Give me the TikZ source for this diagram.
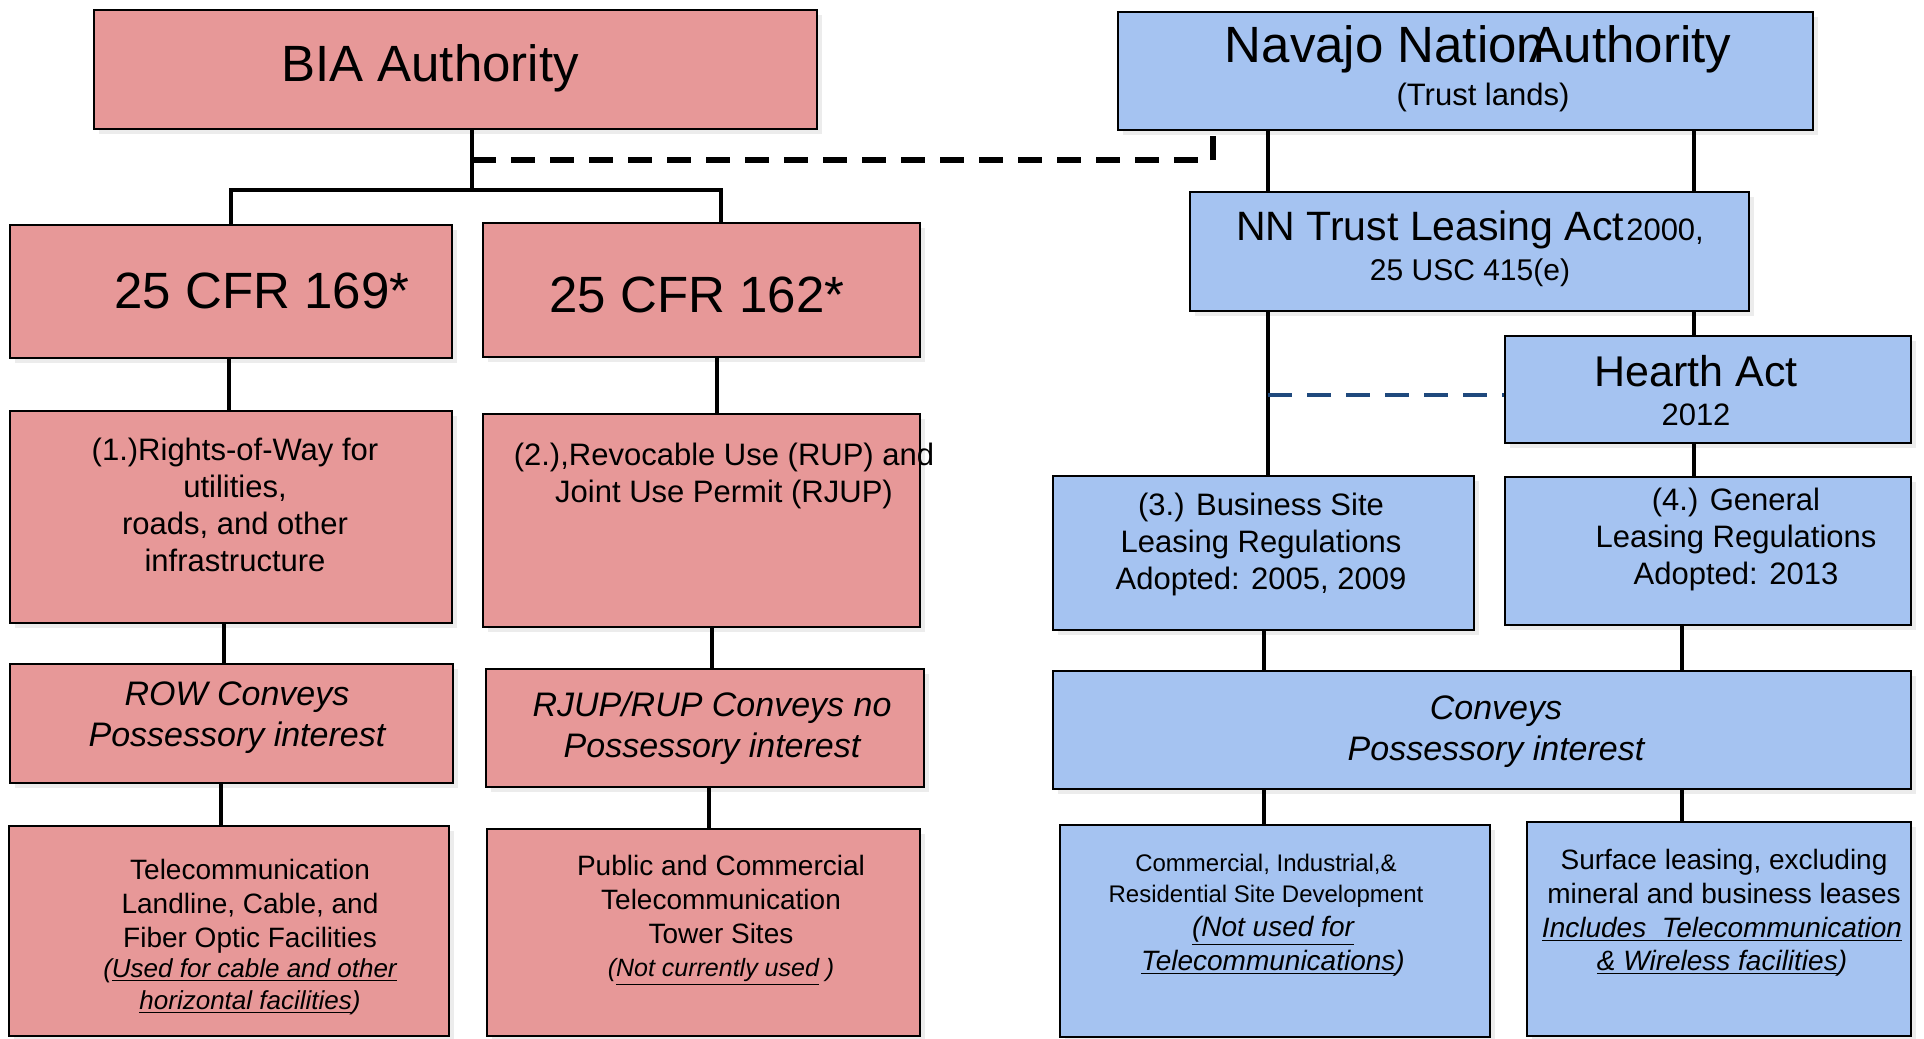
\documentclass[tikz,border=0pt]{standalone}
\usepackage{fontspec}
\setmainfont{Liberation Sans}
\usetikzlibrary{fit,shadows}
\definecolor{pinkf}{RGB}{231,152,152}
\definecolor{bluef}{RGB}{165,195,241}
\definecolor{dblue}{RGB}{31,73,125}
\newcommand{\fsz}[2]{\fontsize{#1}{#2}\selectfont}
\begin{document}
\begin{tikzpicture}[x=0.5pt,y=-0.5pt,
  box/.style={draw=black, line width=1.4pt, inner sep=0pt,
    drop shadow={opacity=0.15,shadow xshift=2.5pt,shadow yshift=-2.5pt}},
  pbox/.style={box, fill=pinkf},
  bbox/.style={box, fill=bluef},
  txt/.style={inner sep=0pt, align=center, text=black},
  conn/.style={line width=2pt},
  dline/.style={line width=2.6pt, dash pattern=on 12pt off 7.5pt},
  bdline/.style={dline, draw=dblue, line width=2.4pt}]
\useasboundingbox[fill=white] (0,0) rectangle (1924,1039);

% boxes
\node[pbox, fit={(94,10)(817,129)}] (bia) {};
\node[bbox, fit={(1118,12)(1813,130)}] (nav) {};
\node[pbox, fit={(10,225)(452,358)}] (c169) {};
\node[pbox, fit={(483,223)(920,357)}] (c162) {};
\node[pbox, fit={(10,411)(452,623)}] (row1) {};
\node[pbox, fit={(483,414)(920,627)}] (rup) {};
\node[pbox, fit={(10,664)(453,783)}] (rowc) {};
\node[pbox, fit={(486,669)(924,787)}] (rjc) {};
\node[pbox, fit={(9,826)(449,1036)}] (tel) {};
\node[pbox, fit={(487,829)(920,1036)}] (pub) {};
\node[bbox, fit={(1190,192)(1749,311)}] (nnt) {};
\node[bbox, fit={(1505,336)(1911,443)}] (hea) {};
\node[bbox, fit={(1053,476)(1474,630)}] (bus) {};
\node[bbox, fit={(1505,477)(1911,625)}] (gen) {};
\node[bbox, fit={(1053,671)(1911,789)}] (conv) {};
\node[bbox, fit={(1060,825)(1490,1037)}] (com) {};
\node[bbox, fit={(1527,822)(1911,1036)}] (surf) {};

% texts
\node[txt, font=\fsz{25.5}{30}] (biat) at (430,68) {BIA Authority};
\node[txt, font=\fsz{25.5}{30}] (navt) at (1478,49) {Navajo Nation\kern-0.3emAuthority};
\node[txt, font=\fsz{15.5}{18}] (navs) at (1483,97) {(Trust lands)};
\node[txt, font=\fsz{25.5}{30}] (c169t) at (262,291) {25 CFR 169*};
\node[txt, font=\fsz{25.5}{30}] (c162t) at (697,295) {25 CFR 162*};
\node[txt, font=\fsz{15.5}{18.5}] (row1t) at (235,505) {(1.)Rights-of-Way for\\utilities,\\roads, and other\\infrastructure};
\node[txt, font=\fsz{15.5}{18.5}] (rupt) at (724,476) {(2.),Revocable Use (RUP) and\\Joint Use Permit (RJUP)};
\node[txt, font=\fsz{17}{20.5}\itshape] (rowct) at (237,718) {ROW Conveys\\Possessory interest};
\node[txt, font=\fsz{17}{20.5}\itshape] (rjct) at (712,728) {RJUP/RUP Conveys no\\Possessory interest};
\node[txt, font=\fsz{14}{17}] (telt) at (250,906) {Telecommunication\\Landline, Cable, and\\Fiber Optic Facilities};
\node[txt, font=\fsz{13}{16}\itshape] (telu) at (250,987) {(\underline{Used for cable and other}\\\underline{horizontal facilities})};
\node[txt, font=\fsz{14}{17}] (pubt) at (721,899) {Public and Commercial\\Telecommunication\\Tower Sites};
\node[txt, font=\fsz{12.5}{16}\itshape] (pubu) at (721,972) {(\underline{Not currently used} )};
\node[txt, font=\fsz{20.5}{25}] (nntt) at (1470,230) {NN Trust Leasing Act\kern1pt{\fsz{15.5}{19}2000,}};
\node[txt, font=\fsz{15}{18}] (nnts) at (1470,273) {25 USC 415(e)};
\node[txt, font=\fsz{21.5}{25}] (heat) at (1696,371) {Hearth Act};
\node[txt, font=\fsz{15.5}{18}] (heas) at (1696,415) {2012};
\node[txt, font=\fsz{15.5}{18.5}] (bust) at (1261,544) {(3.) Business Site\\Leasing Regulations\\Adopted: 2005, 2009};
\node[txt, font=\fsz{15.5}{18.5}] (gent) at (1736,539) {(4.) General\\Leasing Regulations\\Adopted: 2013};
\node[txt, font=\fsz{17}{20.5}\itshape] (convt) at (1496,732) {Conveys\\Possessory interest};
\node[txt, font=\fsz{12}{15.5}] (comt) at (1266,881) {Commercial, Industrial,\&\\Residential Site Development};
\node[txt, font=\fsz{14}{17}\itshape] (comu) at (1273,946) {\underline{(Not used for}\\\underline{Telecommunications})};
\node[txt, font=\fsz{14}{17}] (surft) at (1724,876) {Surface leasing, excluding\\mineral and business leases};
\node[txt, font=\fsz{14}{16.5}\itshape] (surfu) at (1722,947) {\underline{Includes\ \ Telecommunication}\\\underline{\& Wireless facilities})};

% connector helper coordinates
\coordinate (bar) at (472,190);
\coordinate (dj) at (472,160);
\coordinate (xdash) at (1213,0);
\coordinate (x162) at (721,0);
\coordinate (xa) at (229,0);
\coordinate (xb) at (717,0);
\coordinate (xc) at (224,0);
\coordinate (xd) at (712,0);
\coordinate (xe) at (221,0);
\coordinate (xf) at (709,0);
\coordinate (xg) at (1268,0);
\coordinate (xh) at (1694,0);
\coordinate (xi) at (1264,0);
\coordinate (xj) at (1682,0);
\coordinate (bd) at (1268,395);

% connectors
\draw[conn] (bia.south -| bar) -- (bar);
\draw[conn] (c169.north) |- (bar) -| (c162.north -| x162);
\draw[dline] (dj) -| (nav.south -| xdash);
\draw[conn] (c169.south -| xa) -- (row1.north -| xa);
\draw[conn] (c162.south -| xb) -- (rup.north -| xb);
\draw[conn] (row1.south -| xc) -- (rowc.north -| xc);
\draw[conn] (rup.south -| xd) -- (rjc.north -| xd);
\draw[conn] (rowc.south -| xe) -- (tel.north -| xe);
\draw[conn] (rjc.south -| xf) -- (pub.north -| xf);
\draw[conn] (nav.south -| xg) -- (nnt.north -| xg);
\draw[conn] (nav.south -| xh) -- (nnt.north -| xh);
\draw[conn] (nnt.south -| xg) -- (bus.north -| xg);
\draw[conn] (nnt.south -| xh) -- (hea.north -| xh);
\draw[conn] (hea.south -| xh) -- (gen.north -| xh);
\draw[conn] (bus.south -| xi) -- (conv.north -| xi);
\draw[conn] (gen.south -| xj) -- (conv.north -| xj);
\draw[conn] (conv.south -| xi) -- (com.north -| xi);
\draw[conn] (conv.south -| xj) -- (surf.north -| xj);
\draw[bdline] (bd) -- (bd -| hea.west);
\end{tikzpicture}
\end{document}
